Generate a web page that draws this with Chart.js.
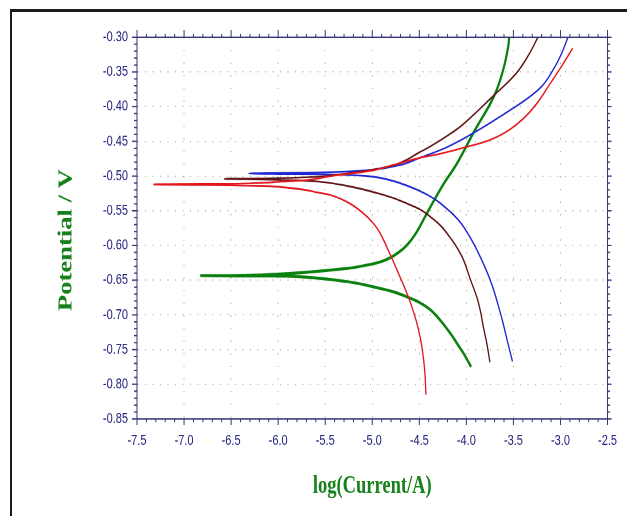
<!DOCTYPE html>
<html>
<head>
<meta charset="utf-8">
<script src="https://cdn.jsdelivr.net/npm/chart.js@4.4.1/dist/chart.umd.min.js"></script>
<style>
  html, body { margin: 0; padding: 0; background: #fff; overflow: hidden; }
  body { width: 627px; height: 516px; position: relative; }
  .frame { position: absolute; left: 10px; top: 9px; width: 700px; height: 600px;
           border-left: 2px solid #1b1b1b; border-top: 3px solid #1b1b1b; }
  /* the original picture is stretched vertically, so draw flat and stretch */
  .stretch { position: absolute; left: 0; top: 0; width: 627px; height: 388px;
             transform: scaleY(1.33); transform-origin: 0 0; }
</style>
</head>
<body>
<div class="frame"></div>
<div class="stretch"><canvas id="tafel"></canvas></div>
<script>
// log(Current/A) and Potential/V, cathodic end -> Ecorr -> anodic end
const redLogI = [-4.43, -4.44, -4.46, -4.49, -4.53, -4.58, -4.64, -4.70, -4.76, -4.82, -4.88, -4.95, -5.03, -5.12, -5.22, -5.33, -5.45, -5.57, -5.71, -6.00, -6.24, -6.80, -7.32,
                 -6.86, -6.31, -5.96, -5.65, -5.44, -5.00, -4.75, -4.52, -4.25, -4.03, -3.75, -3.55, -3.40, -3.26, -3.12, -2.98, -2.87];
const redE = [-0.815, -0.785, -0.758, -0.733, -0.710, -0.688, -0.666, -0.647, -0.628, -0.610, -0.592, -0.575, -0.562, -0.551, -0.541, -0.533, -0.527, -0.524, -0.520, -0.5155, -0.514, -0.513, -0.512,
              -0.5112, -0.5105, -0.508, -0.505, -0.500, -0.492, -0.483, -0.4747, -0.467, -0.459, -0.448, -0.434, -0.418, -0.397, -0.369, -0.340, -0.316];

const brownLogI = [-3.75, -3.78, -3.82, -3.85, -3.89, -3.96, -4.03, -4.10, -4.17, -4.27, -4.38, -4.48, -4.59, -4.73, -4.87, -5.22, -5.57, -6.00, -6.57,
                   -6.00, -5.50, -5.00, -4.75, -4.62, -4.52, -4.38, -4.17, -4.03, -3.71, -3.47, -3.33, -3.24];
const brownE = [-0.768, -0.743, -0.717, -0.695, -0.674, -0.648, -0.621, -0.603, -0.589, -0.572, -0.559, -0.549, -0.542, -0.534, -0.5275, -0.5155, -0.508, -0.5055, -0.504,
                -0.503, -0.500, -0.491, -0.4835, -0.4755, -0.4675, -0.457, -0.439, -0.425, -0.384, -0.352, -0.3235, -0.300];

const blueLogI = [-3.51, -3.56, -3.61, -3.66, -3.71, -3.76, -3.82, -3.92, -4.03, -4.10, -4.17, -4.26, -4.35, -4.52, -4.73, -4.90, -5.08, -5.50, -6.00, -6.31,
                  -6.00, -5.50, -5.00, -4.70, -4.50, -4.20, -3.90, -3.50, -3.35, -3.20, -3.10, -3.00, -2.92];
const blueE = [-0.767, -0.740, -0.712, -0.687, -0.664, -0.645, -0.626, -0.598, -0.573, -0.561, -0.5515, -0.541, -0.532, -0.520, -0.509, -0.503, -0.4997, -0.4975, -0.497, -0.4963,
               -0.4955, -0.4945, -0.491, -0.484, -0.474, -0.458, -0.436, -0.402, -0.388, -0.371, -0.352, -0.327, -0.300];

const greenLogI = [-3.95, -3.99, -4.03, -4.10, -4.17, -4.27, -4.38, -4.50, -4.63, -4.77, -4.91, -5.26, -5.78, -6.30, -6.82,
                   -6.30, -5.78, -5.26, -5.05, -4.91, -4.80, -4.72, -4.65, -4.58, -4.52, -4.46, -4.38, -4.24, -4.10, -3.91, -3.71, -3.61, -3.556, -3.545];
const greenE = [-0.775, -0.765, -0.7555, -0.741, -0.7267, -0.709, -0.693, -0.682, -0.674, -0.667, -0.662, -0.6523, -0.645, -0.644, -0.6435,
                -0.643, -0.6394, -0.633, -0.628, -0.6235, -0.617, -0.610, -0.602, -0.591, -0.579, -0.564, -0.544, -0.511, -0.482, -0.434, -0.386, -0.3475, -0.314, -0.300];

const xTickValues = [-7.5, -7.0, -6.5, -6.0, -5.5, -5.0, -4.5, -4.0, -3.5, -3.0, -2.5];
const yTickValues = [-0.85, -0.80, -0.75, -0.70, -0.65, -0.60, -0.55, -0.50, -0.45, -0.40, -0.35, -0.30];
const xTitle = 'log(Current/A)';
const yTitle = 'Potential / V';

const axisColor = '#34347a';
const labelColor = '#1a1a78';
const titleColor = '#16801a';
const gridColor = '#b4b49a';

function pts(xs, ys) {
    return xs.map((v, i) => ({ x: v, y: ys[i] }));
}

function curve(xs, ys, color, width) {
    return {
        data: pts(xs, ys),
        borderColor: color,
        borderWidth: width,
        showLine: true,
        pointRadius: 0,
        tension: 0.4,
        fill: false
    };
}

// top/right frame lines plus major and minor ticks on all four sides
const frameTicks = {
    id: 'frameTicks',
    afterDraw(chart) {
        const { ctx, chartArea: a, scales: { x, y } } = chart;
        ctx.save();
        ctx.strokeStyle = axisColor;
        ctx.lineWidth = 1;
        ctx.beginPath();
        ctx.moveTo(a.left, a.top);
        ctx.lineTo(a.right, a.top);
        ctx.lineTo(a.right, a.bottom);
        const nx = Math.round((x.max - x.min) / 0.1);
        for (let i = 0; i <= nx; i++) {
            const px = x.getPixelForValue(x.min + i * 0.1);
            const major = i % 5 === 0;
            ctx.moveTo(px, a.bottom);
            ctx.lineTo(px, a.bottom + (major ? 4.5 : 2.5));
            ctx.moveTo(px, a.top);
            ctx.lineTo(px, a.top - (major ? 5.5 : 2.5));
        }
        const ny = Math.round((y.max - y.min) / 0.01);
        for (let j = 0; j <= ny; j++) {
            const py = y.getPixelForValue(y.min + j * 0.01);
            const major = j % 5 === 0;
            ctx.moveTo(a.left, py);
            ctx.lineTo(a.left - (major ? 5 : 3), py);
            ctx.moveTo(a.right, py);
            ctx.lineTo(a.right + (major ? 4 : 2.5), py);
        }
        ctx.stroke();

        // y title sits a little below the middle of the axis
        ctx.translate(66.5, (a.top + a.bottom) / 2 + 9);
        ctx.rotate(-Math.PI / 2);
        ctx.font = 'bold 20px "Liberation Serif", "Times New Roman", serif';
        ctx.fillStyle = titleColor;
        ctx.textAlign = 'center';
        ctx.textBaseline = 'middle';
        ctx.fillText(yTitle, 0, 0);
        ctx.restore();
    }
};

Chart.defaults.font.family = '"Liberation Sans", Arial, sans-serif';

new Chart(document.getElementById('tafel'), {
    type: 'scatter',
    data: {
        datasets: [
            curve(redLogI, redE, '#e2171c', 1.3),
            curve(brownLogI, brownE, '#5e1212', 1.3),
            curve(blueLogI, blueE, '#1f24d2', 1.3),
            curve(greenLogI, greenE, '#0b800e', 2.2)
        ]
    },
    options: {
        responsive: true,
        maintainAspectRatio: false,
        animation: false,
        devicePixelRatio: 2,
        layout: { padding: { left: 0, top: 28, right: 15, bottom: 0 } },
        plugins: { legend: { display: false }, tooltip: { enabled: false } },
        scales: {
            x: {
                type: 'linear',
                min: -7.5,
                max: -2.5,
                afterBuildTicks: s => { s.ticks = xTickValues.map(v => ({ value: v })); },
                afterFit: s => { s.height = 73; },
                ticks: {
                    autoSkip: false,
                    maxRotation: 0,
                    padding: 10,
                    color: labelColor,
                    font: { size: 11 },
                    callback: v => v.toFixed(1)
                },
                grid: { color: gridColor, drawTicks: false },
                border: { display: true, color: axisColor, width: 1, dash: [1, 8.5] },
                title: {
                    display: true,
                    text: xTitle,
                    color: titleColor,
                    padding: { top: 0, bottom: 11 },
                    font: { family: '"Liberation Serif", "Times New Roman", serif', size: 18.5, weight: 'bold' }
                }
            },
            y: {
                type: 'linear',
                min: -0.85,
                max: -0.30,
                afterBuildTicks: s => { s.ticks = yTickValues.map(v => ({ value: v })); },
                afterFit: s => { s.width = 137; },
                ticks: {
                    autoSkip: false,
                    padding: 9,
                    color: labelColor,
                    font: { size: 11 },
                    callback: v => v.toFixed(2)
                },
                grid: { color: gridColor, drawTicks: false },
                border: { display: true, color: axisColor, width: 1, dash: [1, 6.5] }
            }
        }
    },
    plugins: [frameTicks]
});
</script>
</body>
</html>
